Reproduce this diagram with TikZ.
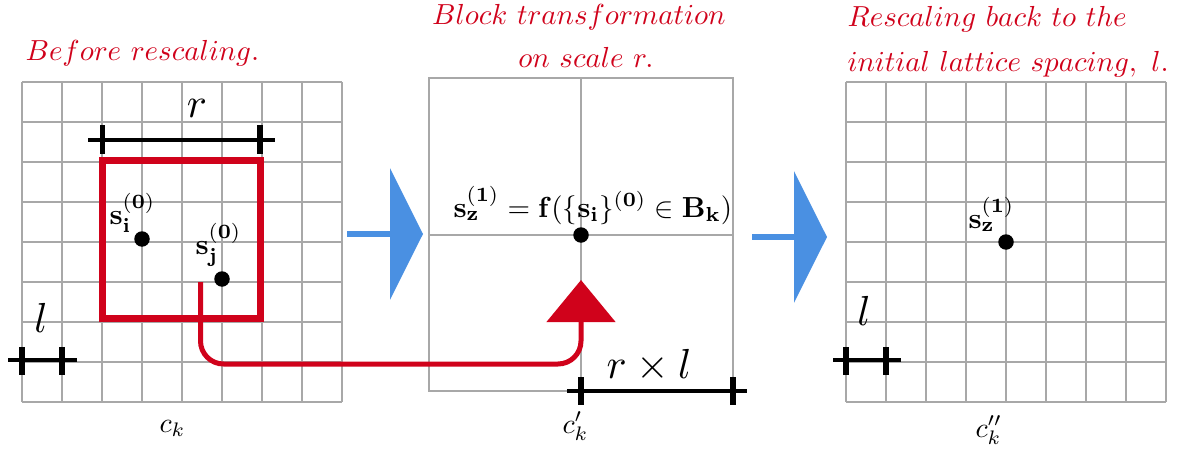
\documentclass[tikz,border=0pt]{standalone}
\usepackage{amsmath}
\usetikzlibrary{arrows.meta}
\definecolor{myred}{HTML}{D0021B}
\definecolor{myblue}{HTML}{4A90E2}
\definecolor{mygray}{HTML}{A8A8A8}
\begin{document}
\begin{tikzpicture}[x=1pt,y=-1pt,
  gridline/.style={draw=mygray,line width=2pt},
  dotnode/.style={circle,fill=black,inner sep=0pt,minimum size=15.5pt},
  titletext/.style={text=myred,inner sep=0pt,scale=2.9},
  bigmath/.style={inner sep=0pt,scale=4.2},
  boldlab/.style={inner sep=0pt,scale=2.9},
  clab/.style={inner sep=0pt,scale=2.8},
  scalebar/.style={line width=4.5pt},
  tickmark/.style={line width=5.5pt},
  bluearrow/.style={draw=myblue,line width=5.5pt,-{Triangle[width=131pt,length=33pt]}},
  redarrow/.style={draw=myred,line width=5pt,rounded corners=23pt,-{Triangle[width=68pt,length=42pt]}},
  blockbox/.style={draw=myred,line width=7pt}
]
\useasboundingbox (0,0) rectangle (1186,452);

% titles
\node[titletext,anchor=base west] (t1) at (25,60) {$Before\ rescaling.$};
\node[titletext,anchor=base] (t2a) at (579,25) {$Block\ transformation$};
\node[titletext,anchor=base] (t2b) at (586,68) {$on\ scale\ r.$};
\node[titletext,anchor=base west] (t3a) at (847,27) {$Rescaling\ back\ to\ the$};
\node[titletext,anchor=base west] (t3b) at (847,72) {$initial\ lattice\ spacing,\ l.$};

% left grid
\foreach \i in {0,...,8} {
  \draw[gridline] ({22+40*\i},82) -- ({22+40*\i},402);
  \draw[gridline] (22,{82+40*\i}) -- (342,{82+40*\i});
}
% right grid
\foreach \i in {0,...,8} {
  \draw[gridline] ({846+40*\i},82) -- ({846+40*\i},402);
  \draw[gridline] (846,{82+40*\i}) -- (1166,{82+40*\i});
}
% middle block
\draw[gridline] (429,78) rectangle (733,391);
\draw[gridline] (581,78) -- (581,391);
\draw[gridline] (429,235) -- (733,235);

% block in the left lattice
\draw[blockbox] (102.5,160.5) rectangle (260.5,318.5);

% scale bars
\draw[scalebar] (88,140) -- (275,140);
\draw[tickmark] (102.5,125) -- (102.5,154);
\draw[tickmark] (260,125) -- (260,154);
\node[bigmath,anchor=base] (rlab) at (197,117) {$r$};

\draw[scalebar] (8,360) -- (77,360);
\draw[tickmark] (22,347) -- (22,375);
\draw[tickmark] (62,347) -- (62,375);
\node[bigmath,anchor=base] (llab) at (41,332) {$l$};

\draw[scalebar] (833,360) -- (901,360);
\draw[tickmark] (846,347) -- (846,375);
\draw[tickmark] (886,347) -- (886,375);
\node[bigmath,anchor=base] (llabr) at (864,325) {$l$};

\draw[scalebar] (567,391) -- (747,391);
\draw[tickmark] (581,377) -- (581,405);
\draw[tickmark] (733,377) -- (733,405);
\node[bigmath,anchor=base] (rllab) at (649,378) {$r\times l$};

% red connector
\coordinate (rstart) at (200.5,282);
\coordinate (rc1) at (200.5,364);
\coordinate (rc2) at (581,364);
\coordinate (rend) at (581,280);
\draw[redarrow] (rstart) -- (rc1) -- (rc2) -- (rend);

% blue arrows
\coordinate (b1s) at (347,234);
\coordinate (b1e) at (423,234);
\coordinate (b2s) at (752,237);
\coordinate (b2e) at (827,237);
\draw[bluearrow] (b1s) -- (b1e);
\draw[bluearrow] (b2s) -- (b2e);

% dots
\node[dotnode] (si) at (142,239) {};
\node[dotnode] (sj) at (222,279) {};
\node[dotnode] (sz) at (581,235) {};
\node[dotnode] (szr) at (1006,242) {};

% labels
\node[boldlab,anchor=base west] (lsi) at (109,224) {$\mathbf{s}_{\mathbf{i}}^{(\mathbf{0})}$};
\node[boldlab,anchor=base west] (lsj) at (195,254) {$\mathbf{s}_{\mathbf{j}}^{(\mathbf{0})}$};
\node[boldlab,anchor=base west] (lsz) at (453,217) {$\mathbf{s}_{\mathbf{z}}^{(\mathbf{1})} = \mathbf{f}(\{\mathbf{s}_{\mathbf{i}}\}^{(\mathbf{0})} \in \mathbf{B}_{\mathbf{k}})$};
\node[boldlab,anchor=base west] (lszr) at (968,228) {$\mathbf{s}_{\mathbf{z}}^{(\mathbf{1})}$};

\node[clab,anchor=base west] (ck) at (159,432) {$c_k$};
\node[clab,anchor=base west] (ckp) at (562,433) {$c'_k$};
\node[clab,anchor=base west] (ckpp) at (975,437) {$c''_k$};
\end{tikzpicture}
\end{document}
